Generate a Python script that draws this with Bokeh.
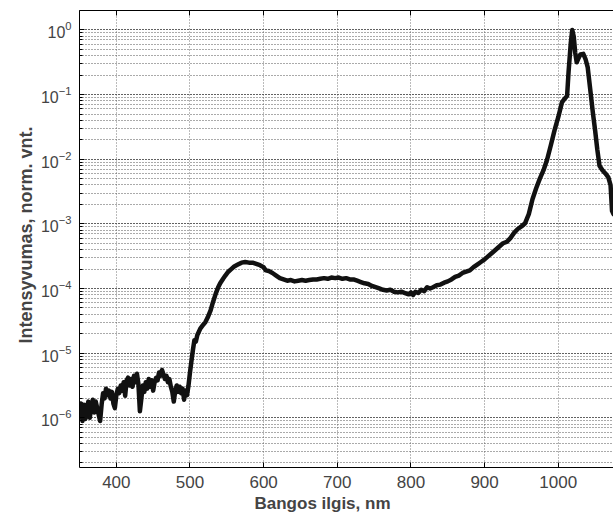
from bokeh.plotting import figure
from bokeh.models import LinearAxis, FixedTicker, LogTicker, Title
from bokeh.embed import file_html
from bokeh.resources import INLINE

# ---- data ----
wavelength = [
    350, 352, 354, 356, 358, 360, 362, 364, 366, 368, 370, 372, 374, 376, 378,
    380, 382, 384, 386, 388, 390, 392, 394, 396, 398, 400, 402, 404, 406, 408,
    410, 412, 414, 416, 418, 420, 422, 424, 426, 428, 430, 432, 434, 436, 438,
    440, 442, 444, 446, 448, 450, 452, 454, 456, 458, 460, 462, 464, 466, 468,
    470, 472, 474, 476, 478, 480, 482, 484, 486, 488, 490, 492, 494, 496, 498,
    500, 502, 504, 506, 508, 510, 514, 518, 521, 524, 528, 531, 535, 538, 541,
    545, 548, 552, 556, 560, 565, 570, 575, 580, 585, 590, 595, 600, 603, 607,
    612, 617, 622, 627, 632, 637, 642, 647, 652, 657, 662, 667, 672, 677, 682,
    687, 692, 697, 702, 707, 712, 717, 722, 727, 732, 737, 742, 747, 752, 757,
    762, 767, 772, 777, 782, 787, 792, 797, 800, 803, 806, 810, 814, 818, 822,
    826, 830, 835, 840, 845, 850, 855, 860, 865, 870, 875, 880, 885, 890, 895,
    900, 905, 910, 915, 920, 925, 930, 935, 940, 945, 950, 955, 960, 965, 970,
    975, 980, 985, 990, 995, 1000, 1005, 1009, 1012, 1014, 1017, 1019, 1021, 1023, 1025,
    1027, 1030, 1034, 1037, 1040, 1043, 1047, 1050, 1053, 1056, 1060, 1064, 1068, 1071, 1073,
    1075,
]
log_intensity = [
    -5.95, -5.78, -6.05, -5.80, -6.02, -5.85, -5.75, -6.00, -5.82, -5.72, -5.92, -5.75, -5.85, -5.95, -6.05,
    -5.80, -5.62, -5.70, -5.55, -5.65, -5.58, -5.70, -5.60, -5.78, -5.85, -5.65, -5.55, -5.62, -5.50, -5.58,
    -5.45, -5.66, -5.42, -5.38, -5.50, -5.40, -5.52, -5.35, -5.45, -5.32, -5.48, -5.90, -5.70, -5.50, -5.60,
    -5.45, -5.55, -5.40, -5.52, -5.42, -5.58, -5.45, -5.38, -5.42, -5.30, -5.35, -5.26, -5.33, -5.40, -5.35,
    -5.45, -5.40, -5.52, -5.60, -5.75, -5.58, -5.50, -5.60, -5.52, -5.62, -5.55, -5.72, -5.58, -5.65, -5.50,
    -5.30, -5.12, -4.95, -4.80, -4.82, -4.72, -4.62, -4.56, -4.52, -4.45, -4.34, -4.22, -4.08, -3.99, -3.92,
    -3.85, -3.80, -3.74, -3.70, -3.66, -3.63, -3.60, -3.59, -3.60, -3.60, -3.62, -3.64, -3.67, -3.72, -3.73,
    -3.76, -3.80, -3.84, -3.86, -3.88, -3.87, -3.89, -3.88, -3.87, -3.88, -3.87, -3.86, -3.86, -3.85, -3.84,
    -3.85, -3.83, -3.84, -3.83, -3.85, -3.84, -3.86, -3.86, -3.88, -3.90, -3.92, -3.93, -3.96, -3.98, -4.00,
    -4.02, -4.03, -4.02, -4.05, -4.06, -4.05, -4.07, -4.09, -4.06, -4.10, -4.05, -4.07, -4.02, -4.04, -3.98,
    -4.00, -3.98, -3.95, -3.94, -3.91, -3.89, -3.86, -3.82, -3.80, -3.76, -3.74, -3.72, -3.67, -3.63, -3.59,
    -3.55, -3.50, -3.45, -3.40, -3.35, -3.30, -3.28, -3.22, -3.14, -3.08, -3.04, -2.99, -2.85, -2.62, -2.45,
    -2.30, -2.17, -2.00, -1.78, -1.55, -1.35, -1.12, -1.06, -1.02, -0.65, -0.20, 0.00, -0.10, -0.35, -0.50,
    -0.45, -0.38, -0.37, -0.45, -0.58, -0.88, -1.28, -1.55, -1.85, -2.10, -2.17, -2.22, -2.28, -2.40, -2.80,
    -2.85,
]
intensity = [10 ** v for v in log_intensity]

x_ticks = [400, 500, 600, 700, 800, 900, 1000]
x_label = "Bangos ilgis, nm"
y_label = "Intensyvumas, norm. vnt."

FONT = "Liberation Sans"

p = figure(width=613, height=517,
           x_range=(350, 1075), y_range=(1.7e-7, 2.0),
           y_axis_type="log",
           output_backend="svg", toolbar_location=None,
           min_border_left=79, min_border_right=0,
           min_border_top=10, min_border_bottom=50)
p.background_fill_color = "white"
p.border_fill_color = "white"
p.outline_line_color = None

p.line(wavelength, intensity, line_color="#111111", line_width=4.5,
       line_join="round", line_cap="round")

# x axis
xa = p.xaxis[0]
xa.ticker = FixedTicker(ticks=x_ticks)
xa.major_label_text_font = FONT
xa.major_label_text_font_size = "17px"
xa.major_label_standoff = 8
xa.major_tick_in = 5
xa.major_tick_out = 0
xa.minor_tick_line_color = None
xa.axis_line_color = "black"
xa.major_tick_line_color = "black"

# y axis
ya = p.yaxis[0]
ya.ticker = LogTicker(num_minor_ticks=10)
ya.major_label_text_font = FONT
ya.major_label_text_font_size = "16px"
ya.major_label_standoff = 8
ya.major_tick_in = 5
ya.major_tick_out = 0
ya.minor_tick_in = 3
ya.minor_tick_out = 0
ya.axis_line_color = "black"

# axis titles, positioned like the reference
xt = Title(text=x_label, align="left", offset=175,
           text_font=FONT, text_font_style="bold", text_font_size="17px",
           standoff=2)
p.add_layout(xt, "below")
yt = Title(text=y_label, align="left", offset=124,
           text_font=FONT, text_font_style="bold", text_font_size="18px",
           standoff=4)
p.add_layout(yt, "left")

# top axis (box edge) with ticks, no labels
top = LinearAxis(ticker=FixedTicker(ticks=x_ticks),
                 major_label_text_font_size="1px", major_label_text_color=None,
                 major_label_standoff=0,
                 major_tick_in=5, major_tick_out=0,
                 minor_tick_line_color=None, axis_line_color="black")
p.add_layout(top, "above")

# grids
p.xgrid.ticker = FixedTicker(ticks=x_ticks)
p.xgrid.grid_line_color = "#777777"
p.xgrid.grid_line_dash = "1 2"
p.xgrid.grid_line_width = 1
p.ygrid.grid_line_color = "#444444"
p.ygrid.grid_line_dash = "1 2"
p.ygrid.minor_grid_line_color = "#555555"
p.ygrid.minor_grid_line_dash = "1 2"

open("out.html", "w").write(file_html(p, INLINE))
